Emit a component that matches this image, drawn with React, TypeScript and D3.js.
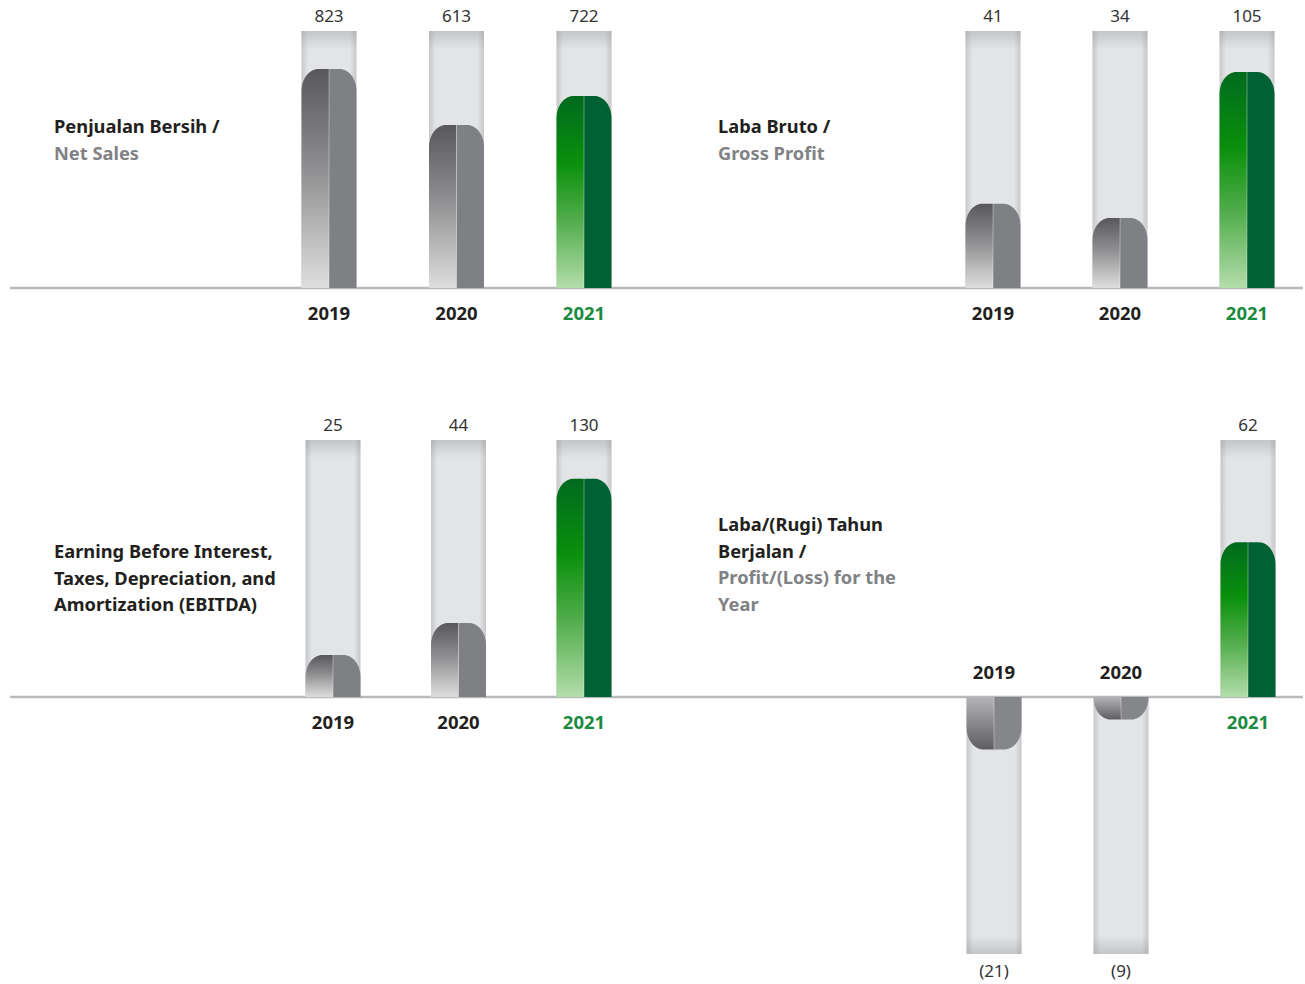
import { useEffect } from 'react';
import * as d3 from 'd3';

const YEARS = ['2019', '2020', '2021'];
const NET_SALES = [823, 613, 722];
const GROSS_PROFIT = [41, 34, 105];
const EBITDA = [25, 44, 130];
const PROFIT = [-21, -9, 62];

// domain maxima of each panel's value scale (full track height)
const SCALE_MAX = [966, 125, 153, 103];

const W = 1305;
const H = 984;
const TRACK_H = 257;
const BAR_W = 55;
const FONT = '"Noto Sans", Lato, sans-serif';

interface Panel {
  id: string;
  values: number[];
  max: number;
  titleDark: string[];
  titleGray: string[];
  titleX: number;
  titleY: number;
  xRange: [number, number];
  baseline: number;
}

const PANELS: Panel[] = [
  { id: 'ns', values: NET_SALES, max: SCALE_MAX[0], titleDark: ['Penjualan Bersih /'], titleGray: ['Net Sales'], titleX: 54, titleY: 133, xRange: [329, 584], baseline: 288 },
  { id: 'gp', values: GROSS_PROFIT, max: SCALE_MAX[1], titleDark: ['Laba Bruto /'], titleGray: ['Gross Profit'], titleX: 718, titleY: 133, xRange: [993, 1247], baseline: 288 },
  { id: 'eb', values: EBITDA, max: SCALE_MAX[2], titleDark: ['Earning Before Interest,', 'Taxes, Depreciation, and', 'Amortization (EBITDA)'], titleGray: [], titleX: 54, titleY: 558, xRange: [333, 584], baseline: 697 },
  { id: 'pl', values: PROFIT, max: SCALE_MAX[3], titleDark: ['Laba/(Rugi) Tahun', 'Berjalan /'], titleGray: ['Profit/(Loss) for the', 'Year'], titleX: 718, titleY: 531, xRange: [994, 1248], baseline: 697 },
];

// half-bar path with one rounded outer corner at the far end
function halfPath(x0: number, x1: number, yBase: number, yEnd: number, side: 'left' | 'right'): string {
  const dir = yEnd < yBase ? -1 : 1; // -1 grows up
  const h = Math.abs(yEnd - yBase);
  const rx = Math.min(17, (x1 - x0));
  const ry = Math.min(22, h);
  const k = 0.45;
  const p = d3.path();
  if (side === 'left') {
    p.moveTo(x1, yBase);
    p.lineTo(x0, yBase);
    p.lineTo(x0, yEnd - dir * ry);
    p.bezierCurveTo(x0, yEnd - dir * ry * k, x0 + rx * k, yEnd, x0 + rx, yEnd);
    p.lineTo(x1, yEnd);
  } else {
    p.moveTo(x0, yBase);
    p.lineTo(x0, yEnd);
    p.lineTo(x1 - rx, yEnd);
    p.bezierCurveTo(x1 - rx * k, yEnd, x1, yEnd - dir * ry * k, x1, yEnd - dir * ry);
    p.lineTo(x1, yBase);
  }
  p.closePath();
  return p.toString();
}

function PanelView({ panel }: { panel: Panel }) {
  const x = d3.scalePoint<string>().domain(YEARS).range(panel.xRange);
  const y = d3.scaleLinear().domain([-panel.max, panel.max]).range([panel.baseline + TRACK_H, panel.baseline - TRACK_H]);

  return (
    <g>
      {panel.titleDark.map((t, i) => (
        <text key={'d' + i} x={panel.titleX} y={panel.titleY + i * 26.5} fontFamily={FONT} fontWeight={700} fontSize={18.3} fill="#231f20">{t}</text>
      ))}
      {panel.titleGray.map((t, i) => (
        <text key={'g' + i} x={panel.titleX} y={panel.titleY + (panel.titleDark.length + i) * 26.5} fontFamily={FONT} fontWeight={700} fontSize={18.3} fill="#808285">{t}</text>
      ))}

      {YEARS.map((yr, i) => {
        const v = panel.values[i];
        const cx = x(yr) ?? 0;
        const x0 = cx - BAR_W / 2;
        const x1 = cx + BAR_W / 2;
        const neg = v < 0;
        const green = yr === '2021';
        const trackEnd = neg ? y(-panel.max) : y(panel.max);
        const tTop = Math.min(trackEnd, panel.baseline);
        const barEnd = y(v);
        const fillLeft = green ? 'url(#gLeftGreen)' : neg ? 'url(#gLeftGrayNeg)' : 'url(#gLeftGray)';
        const fillRight = green ? '#006233' : neg ? '#85868a' : '#7f8084';
        const label = neg ? `(${Math.abs(v)})` : `${v}`;
        return (
          <g key={yr}>
            <rect x={x0} y={tTop} width={BAR_W} height={TRACK_H} fill="url(#gTrack)" />
            <rect x={x0} y={neg ? trackEnd - 18 : trackEnd} width={BAR_W} height={18} fill={neg ? 'url(#gTrackBottom)' : 'url(#gTrackTop)'} />
            <path d={halfPath(x0, cx, panel.baseline, barEnd, 'left')} fill={fillLeft} />
            <path d={halfPath(cx, x1, panel.baseline, barEnd, 'right')} fill={fillRight} />
            <line x1={cx} x2={cx} y1={panel.baseline} y2={barEnd} stroke="#ffffff" strokeOpacity={0.35} strokeWidth={1} />
            <text x={cx} y={neg ? trackEnd + 23 : trackEnd - 9} textAnchor="middle" fontFamily={FONT} fontSize={17} fill="#333333">{label}</text>
            <text x={cx} y={neg ? panel.baseline - 18 : panel.baseline + 32} textAnchor="middle" fontFamily={FONT} fontWeight={700} fontSize={18.5} fill={green ? '#1a8a3e' : '#231f20'}>{yr}</text>
          </g>
        );
      })}
    </g>
  );
}

export default function App() {
  useEffect(() => {
    document.body.style.margin = '0';
  }, []);

  const baselines = Array.from(new Set(PANELS.map(p => p.baseline)));

  return (
    <svg width={W} height={H} style={{ display: 'block', background: '#ffffff' }}>
      <defs>
        <linearGradient id="gTrack" x1="0" x2="1" y1="0" y2="0">
          <stop offset="0" stopColor="#c6c7c9" />
          <stop offset="0.12" stopColor="#e3e4e6" />
          <stop offset="0.88" stopColor="#e3e4e6" />
          <stop offset="1" stopColor="#c6c7c9" />
        </linearGradient>
        <linearGradient id="gTrackTop" x1="0" x2="0" y1="0" y2="1">
          <stop offset="0" stopColor="#8a8b8d" stopOpacity={0.35} />
          <stop offset="1" stopColor="#8a8b8d" stopOpacity={0} />
        </linearGradient>
        <linearGradient id="gTrackBottom" x1="0" x2="0" y1="1" y2="0">
          <stop offset="0" stopColor="#8a8b8d" stopOpacity={0.35} />
          <stop offset="1" stopColor="#8a8b8d" stopOpacity={0} />
        </linearGradient>
        <linearGradient id="gLeftGray" x1="0" x2="0" y1="0" y2="1">
          <stop offset="0" stopColor="#58585a" />
          <stop offset="0.45" stopColor="#8e8e90" />
          <stop offset="1" stopColor="#dedede" />
        </linearGradient>
        <linearGradient id="gLeftGrayNeg" x1="0" x2="0" y1="0" y2="1">
          <stop offset="0" stopColor="#b4b4b6" />
          <stop offset="1" stopColor="#5e5e60" />
        </linearGradient>
        <linearGradient id="gLeftGreen" x1="0" x2="0" y1="0" y2="1">
          <stop offset="0" stopColor="#006a1e" />
          <stop offset="0.35" stopColor="#0a900c" />
          <stop offset="0.65" stopColor="#52ad4c" />
          <stop offset="1" stopColor="#b3ddab" />
        </linearGradient>
      </defs>

      {baselines.map(b => (
        <line key={b} x1={10} x2={1303} y1={b} y2={b} stroke="#b9babc" strokeWidth={2.5} />
      ))}

      {PANELS.map(p => <PanelView key={p.id} panel={p} />)}
    </svg>
  );
}
